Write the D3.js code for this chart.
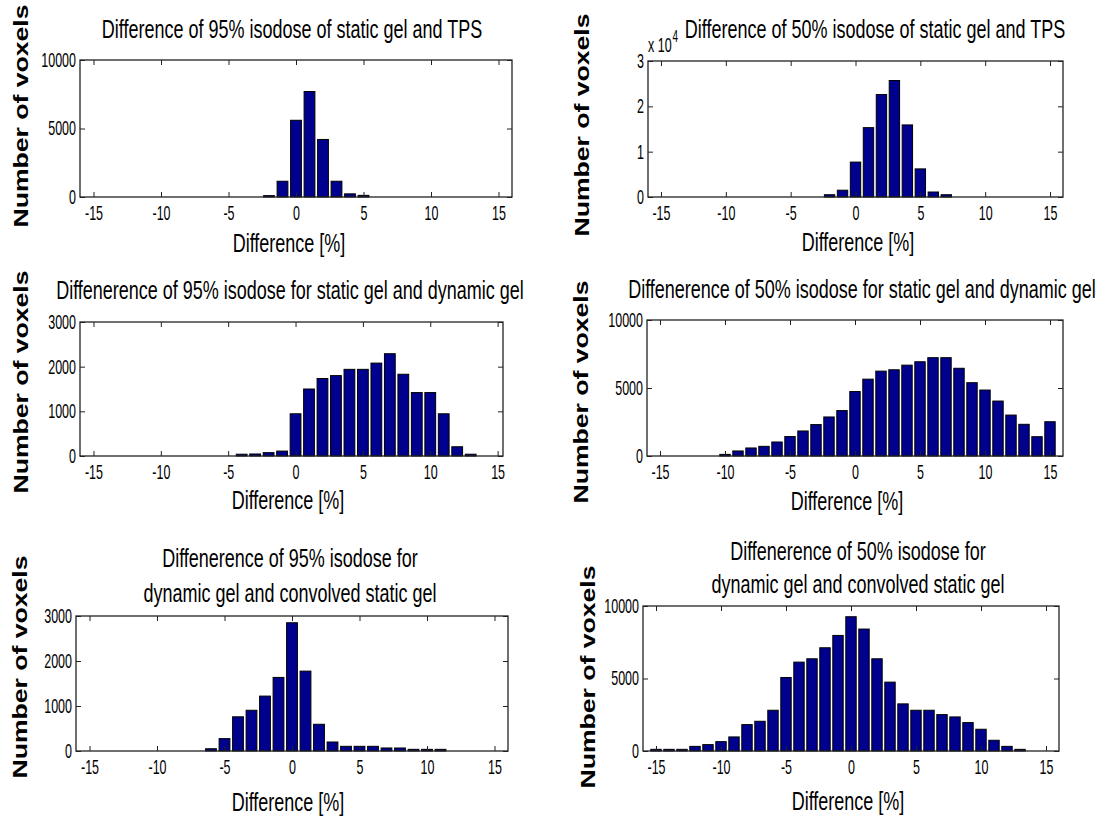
<!DOCTYPE html>
<html>
<head>
<meta charset="utf-8">
<script src="https://cdn.jsdelivr.net/npm/d3@7"></script>
<style>
  body { margin: 0; background: #fff; }
  svg { display: block; }
  text { font-family: "Liberation Sans", Arial, sans-serif; fill: #000; }
</style>
</head>
<body>
<svg id="fig" width="1102" height="825"></svg>
<script>
// ---- data (bin centre in %, voxel count) ----
const xTicks = [-15, -10, -5, 0, 5, 10, 15];

const p1Bins = [-2, -1, 0, 1, 2, 3, 4, 5];
const p1Counts = [100, 1150, 5600, 7700, 4200, 1150, 230, 120];

const p2Bins = [-2, -1, 0, 1, 2, 3, 4, 5, 6, 7];
const p2Counts = [500, 1500, 7700, 15300, 22600, 25700, 15900, 6200, 1100, 500];

const p3Bins = [-4, -3, -2, -1, 0, 1, 2, 3, 4, 5, 6, 7, 8, 9, 10, 11, 12, 13];
const p3Counts = [40, 45, 75, 110, 945, 1500, 1735, 1800, 1940, 1940, 2080, 2290, 1830, 1420, 1420, 945, 207, 40];

const p4Bins = [-10, -9, -8, -7, -6, -5, -4, -3, -2, -1, 0, 1, 2, 3, 4, 5, 6, 7, 8, 9, 10, 11, 12, 13, 14, 15];
const p4Counts = [120, 370, 590, 710, 1030, 1430, 1840, 2310, 2870, 3340, 4740, 5650, 6240, 6340, 6680, 6930, 7230, 7230, 6450, 5390, 4850, 4040, 3010, 2330, 1420, 2520];

const p5Bins = [-6, -5, -4, -3, -2, -1, 0, 1, 2, 3, 4, 5, 6, 7, 8, 9, 10, 11];
const p5Counts = [50, 275, 760, 905, 1220, 1635, 2850, 1775, 594, 200, 104, 104, 104, 67, 67, 37, 37, 37];

const p6Bins = [-15, -14, -13, -12, -11, -10, -9, -8, -7, -6, -5, -4, -3, -2, -1, 0, 1, 2, 3, 4, 5, 6, 7, 8, 9, 10, 11, 12, 13];
const p6Counts = [115, 115, 115, 320, 440, 645, 970, 1820, 2050, 2810, 5070, 6130, 6360, 7120, 7970, 9260, 8410, 6360, 4750, 3250, 2810, 2810, 2510, 2350, 1960, 1500, 740, 320, 115];

const ticks3000 = [0, 1000, 2000, 3000];
const ticks10000 = [0, 5000, 10000];
const ticks30000 = [0, 10000, 20000, 30000];

const titles = [
  ['Difference of 95% isodose of static gel and TPS'],
  ['Difference of 50% isodose of static gel and TPS'],
  ['Diffenerence of 95% isodose for static gel and dynamic gel'],
  ['Diffenerence of 50% isodose for static gel and dynamic gel'],
  ['Diffenerence of 95% isodose for', 'dynamic gel and convolved static gel'],
  ['Diffenerence of 50% isodose for', 'dynamic gel and convolved static gel']
];
const xLabel = 'Difference [%]';
const yLabel = 'Number of voxels';

// ---- look ----
const barColor = '#00008f';
const boxColor = '#222';
const TXT_K = 1.42;   // the figure is stretched vertically
const TICK_K = 1.6;
const TICK_SIZE = 12.5;

const svg = d3.select('#fig');

const panels = [
  { bins: p1Bins, counts: p1Counts, yTicks: ticks10000, yMax: 10000, xDom: [-16, 16],
    left: 80, right: 512, top: 60, bottom: 197,
    titleX: 292, titleY: [38], xlabX: 289, xlabY: 252, ylabX: 28, ylabY: 116 },
  { bins: p2Bins, counts: p2Counts, yTicks: ticks30000, yMax: 30000, xDom: [-16, 16], exp: true,
    left: 648, right: 1063, top: 61, bottom: 197,
    titleX: 875, titleY: [38], xlabX: 858, xlabY: 251, ylabX: 589, ylabY: 125 },
  { bins: p3Bins, counts: p3Counts, yTicks: ticks3000, yMax: 3000, xDom: [-16, 15.4],
    left: 80, right: 503, top: 322, bottom: 456,
    titleX: 290, titleY: [299], xlabX: 288, xlabY: 509, ylabX: 28, ylabY: 382 },
  { bins: p4Bins, counts: p4Counts, yTicks: ticks10000, yMax: 10000, xDom: [-16, 16],
    left: 647, right: 1063, top: 320, bottom: 456,
    titleX: 862, titleY: [298], xlabX: 847, xlabY: 510, ylabX: 588, ylabY: 392 },
  { bins: p5Bins, counts: p5Counts, yTicks: ticks3000, yMax: 3000, xDom: [-16, 16],
    left: 76, right: 508, top: 616, bottom: 751,
    titleX: 290, titleY: [567, 602], xlabX: 288, xlabY: 811, ylabX: 27, ylabY: 667 },
  { bins: p6Bins, counts: p6Counts, yTicks: ticks10000, yMax: 10000, xDom: [-16, 16],
    left: 643, right: 1059, top: 606, bottom: 751,
    titleX: 858, titleY: [560, 593], xlabX: 848, xlabY: 810, ylabX: 595, ylabY: 677 }
];

// squash a text node vertically around its own anchor
function stretch(sel, k) {
  sel.each(function () {
    const t = d3.select(this);
    const y = +t.attr('y') || 0;
    t.attr('y', 0).attr('transform', `translate(0,${y}) scale(1,${k})`);
  });
}

function text(g, str, x, y, size, k) {
  return g.append('text')
    .attr('transform', `translate(${x},${y}) scale(1,${k})`)
    .attr('text-anchor', 'middle')
    .attr('font-size', size)
    .text(str);
}

panels.forEach((p, i) => {
  const g = svg.append('g');
  const x = d3.scaleLinear().domain(p.xDom).range([p.left, p.right]);
  const y = d3.scaleLinear().domain([0, p.yMax]).range([p.bottom, p.top]);
  const bw = x(0.4) - x(-0.4);

  g.selectAll('rect.bar')
    .data(d3.zip(p.bins, p.counts))
    .join('rect')
    .attr('class', 'bar')
    .attr('x', d => x(d[0]) - bw / 2)
    .attr('y', d => y(d[1]))
    .attr('width', bw)
    .attr('height', d => y(0) - y(d[1]))
    .attr('fill', barColor)
    .attr('stroke', '#000')
    .attr('stroke-width', 1);

  const fmtY = p.exp ? (d => String(d / 10000)) : (d => String(d));

  const bottom = g.append('g')
    .attr('transform', `translate(0,${p.bottom})`)
    .call(d3.axisBottom(x).tickValues(xTicks).tickSize(-5).tickSizeOuter(0).tickPadding(9).tickFormat(d => String(d)));
  const top = g.append('g')
    .attr('transform', `translate(0,${p.top})`)
    .call(d3.axisTop(x).tickValues(xTicks).tickSize(-5).tickSizeOuter(0).tickFormat(''));
  const left = g.append('g')
    .attr('transform', `translate(${p.left},0)`)
    .call(d3.axisLeft(y).tickValues(p.yTicks).tickSize(-5).tickSizeOuter(0).tickPadding(4).tickFormat(fmtY));
  const right = g.append('g')
    .attr('transform', `translate(${p.right},0)`)
    .call(d3.axisRight(y).tickValues(p.yTicks).tickSize(-5).tickSizeOuter(0).tickFormat(''));

  [bottom, top, left, right].forEach(a => {
    a.select('.domain').remove();
    a.selectAll('line').attr('stroke', boxColor);
    a.selectAll('text').attr('font-size', TICK_SIZE).attr('font-family', null);
  });
  stretch(bottom.selectAll('text'), TICK_K);
  stretch(left.selectAll('text'), TICK_K);

  g.append('rect')
    .attr('x', p.left).attr('y', p.top)
    .attr('width', p.right - p.left).attr('height', p.bottom - p.top)
    .attr('fill', 'none').attr('stroke', boxColor).attr('stroke-width', 1.3);

  if (p.exp) {
    g.append('text')
      .attr('transform', `translate(${p.left},52) scale(1,${TICK_K})`)
      .attr('font-size', TICK_SIZE)
      .text('x 10')
      .append('tspan').attr('dy', -6).attr('dx', 1).attr('font-size', 10).text('4');
  }

  titles[i].forEach((line, j) => text(g, line, p.titleX, p.titleY[j], 18, TXT_K));
  text(g, xLabel, p.xlabX, p.xlabY, 18, TXT_K);

  g.append('text')
    .attr('transform', `translate(${p.ylabX},${p.ylabY}) rotate(-90) scale(1.33,1)`)
    .attr('text-anchor', 'middle')
    .attr('font-size', 20)
    .attr('font-weight', 'bold')
    .text(yLabel);
});
</script>
</body>
</html>
